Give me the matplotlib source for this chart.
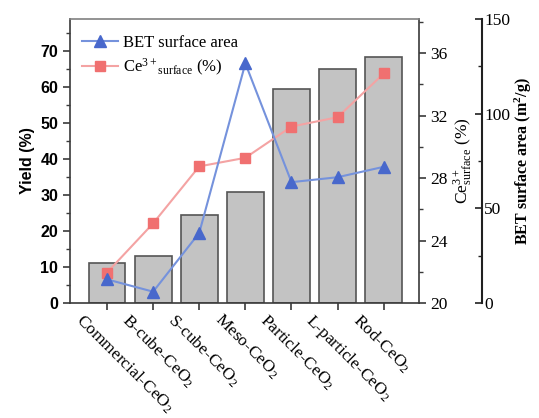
import matplotlib
matplotlib.use("Agg")
import matplotlib.pyplot as plt
import matplotlib.transforms as mtransforms
from matplotlib.ticker import MultipleLocator
from matplotlib.lines import Line2D

categories = ["Commercial-CeO$_2$", "B-cube-CeO$_2$", "S-cube-CeO$_2$", "Meso-CeO$_2$",
              "Particle-CeO$_2$", "L-particle-CeO$_2$", "Rod-CeO$_2$"]
yield_pct = [11.0, 13.2, 24.4, 30.9, 59.4, 65.0, 68.3]
ce3_surface = [21.95, 25.1, 28.75, 29.3, 31.3, 31.9, 34.7]
bet_area = [12.5, 6.0, 37.0, 126.5, 63.8, 66.4, 71.9]

serif = "Liberation Serif"
sans = "Liberation Sans"
spine_col = "#3a3a3a"

plt.rcParams["mathtext.fontset"] = "custom"
plt.rcParams["mathtext.rm"] = "Liberation Serif"
plt.rcParams["mathtext.it"] = "Liberation Serif:italic"
plt.rcParams["mathtext.bf"] = "Liberation Serif:bold"

fig = plt.figure(figsize=(5.39, 4.18), dpi=100)
ax = fig.add_axes([0.130, 0.275, 0.647, 0.680])
x = list(range(len(categories)))

ax.bar(x, yield_pct, width=0.8, color="#c3c3c3", edgecolor="#555555", linewidth=1.2, zorder=2)
ax.set_xlim(-0.8, 6.76)
ax.set_ylim(0, 79)
ax.yaxis.set_major_locator(MultipleLocator(10))
ax.yaxis.set_minor_locator(MultipleLocator(5))
ax.tick_params(axis="y", which="major", direction="out", length=5, width=1.2, color=spine_col,
               labelsize=11.5)
ax.tick_params(axis="y", which="minor", direction="out", length=3, width=1.0, color=spine_col)
ax.tick_params(axis="x", which="major", direction="out", length=5, width=1.2, color=spine_col)
for lab in ax.get_yticklabels():
    lab.set_fontfamily(sans)
    lab.set_fontweight("bold")
ax.set_ylabel("Yield (%)", fontfamily=sans, fontweight="bold", fontsize=11.5, labelpad=4)
ax.set_xticks(x)
ax.set_xticklabels(categories, fontfamily=serif, fontsize=12.5, rotation=-45,
                   ha="left", va="top", rotation_mode="anchor")
offset = mtransforms.ScaledTranslation(-22 / 100, 4 / 100, fig.dpi_scale_trans)
for lab in ax.get_xticklabels():
    lab.set_transform(lab.get_transform() + offset)
for s in ax.spines.values():
    s.set_color(spine_col)
    s.set_linewidth(1.2)
ax.spines["top"].set_color("#808080")

# Ce3+ axis
ax2 = ax.twinx()
ax2.plot(x, ce3_surface, color="#f4a3a3", linewidth=1.5, marker="s", markersize=7,
         markerfacecolor="#f07070", markeredgecolor="#f07070", zorder=3)
ax2.set_ylim(20, 38.2)
ax2.yaxis.set_major_locator(MultipleLocator(4))
ax2.yaxis.set_minor_locator(MultipleLocator(2))
ax2.tick_params(axis="y", which="major", direction="out", length=5, width=1.2, color=spine_col,
                labelsize=12.5)
ax2.tick_params(axis="y", which="minor", direction="out", length=3, width=1.0, color=spine_col)
for lab in ax2.get_yticklabels():
    lab.set_fontfamily(serif)
ax2.set_ylabel("Ce$^{3+}_{\\mathrm{surface}}$ (%)", fontfamily=serif, fontsize=12.5, labelpad=2)
for s in ax2.spines.values():
    s.set_visible(False)

# BET axis
ax3 = ax.twinx()
ax3.plot(x, bet_area, color="#7592dc", linewidth=1.5, marker="^", markersize=8,
         markerfacecolor="#4868cc", markeredgecolor="#4868cc", zorder=3)
ax3.set_ylim(0, 150)
for s in ["top", "left", "bottom"]:
    ax3.spines[s].set_visible(False)
ax3.spines["right"].set_position(("axes", 1.18))
ax3.spines["right"].set_color("#202020")
ax3.spines["right"].set_linewidth(1.5)
ax3.yaxis.set_major_locator(MultipleLocator(50))
ax3.yaxis.set_minor_locator(MultipleLocator(25))
ax3.tick_params(axis="y", which="major", direction="in", length=5, width=1.2, color="#202020",
                labelsize=12.5, pad=2)
ax3.tick_params(axis="y", which="minor", direction="in", length=3, width=1.0, color="#202020")
for lab in ax3.get_yticklabels():
    lab.set_fontfamily(serif)
ax3.set_ylabel("BET surface area (m$^\\mathbf{2}$/g)", fontfamily=serif, fontweight="bold",
               fontsize=11.5, labelpad=2)

handles = [
    Line2D([], [], color="#7592dc", linewidth=1.5, marker="^", markersize=8,
           markerfacecolor="#4868cc", markeredgecolor="#4868cc"),
    Line2D([], [], color="#f4a3a3", linewidth=1.5, marker="s", markersize=7,
           markerfacecolor="#f07070", markeredgecolor="#f07070"),
]
leg = ax3.legend(handles, ["BET surface area", "Ce$^{3+}$$_{\\mathrm{surface}}$ (%)"],
                 loc="upper left", bbox_to_anchor=(0.0, 0.985), frameon=False,
                 prop={"family": serif, "size": 12}, handlelength=2.2, handletextpad=0.25,
                 labelspacing=0.35, borderaxespad=0.3)

fig.savefig("out.png", dpi=100)
